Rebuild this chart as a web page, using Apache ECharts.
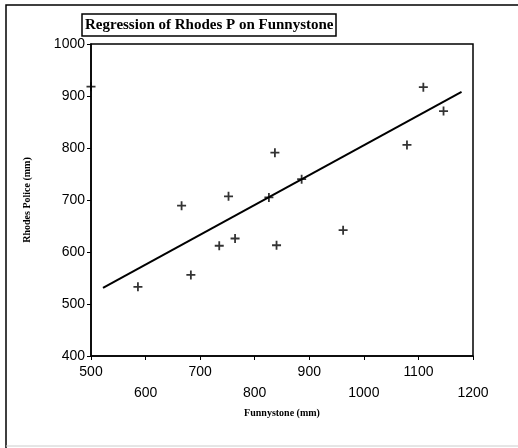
<!DOCTYPE html>
<html>
<head>
<meta charset="utf-8">
<script src="https://cdn.jsdelivr.net/npm/echarts@6/dist/echarts.min.js"></script>
<style>
  html, body { margin: 0; padding: 0; background: #fff; }
  #chart { width: 518px; height: 448px; }
</style>
</head>
<body>
<div id="chart"></div>
<script>
  // Funnystone (mm) vs Rhodes Police (mm)
  var funnystone = [500, 586, 666, 683, 735, 752, 764, 826, 837, 840, 886, 962, 1079, 1109, 1146];
  var rhodes     = [918, 533, 689, 556, 612, 707, 626, 705, 791, 613, 740, 642, 806, 917, 871];
  // fitted line, two ends
  var lineX = [522, 1179];
  var lineY = [531, 908];

  var points = funnystone.map(function (x, i) { return [x, rhodes[i]]; });
  var fit = lineX.map(function (x, i) { return [x, lineY[i]]; });

  var labelFont = { color: '#000', fontFamily: 'Liberation Sans', fontSize: 14 };
  var plus = 'path://M4,0 L6,0 L6,4 L10,4 L10,6 L6,6 L6,10 L4,10 L4,6 L0,6 L0,4 L4,4 Z';

  var myChart = echarts.init(document.getElementById('chart'));
  myChart.setOption({
    animation: false,
    backgroundColor: '#fff',
    title: {
      text: 'Regression of Rhodes P on Funnystone',
      left: 82,
      top: 14,
      padding: [4, 3, 3, 3],
      borderColor: '#000',
      borderWidth: 1.5,
      textStyle: {
        color: '#000',
        fontFamily: 'Liberation Serif',
        fontWeight: 'bold',
        fontSize: 15
      }
    },
    graphic: [{
      type: 'polyline',
      shape: { points: [[6, 448], [6, 5], [518, 5]] },
      style: { stroke: '#000', lineWidth: 1.5, fill: null }
    }, {
      type: 'line',
      shape: { x1: 6, y1: 446, x2: 518, y2: 446 },
      style: { stroke: '#ccc', lineWidth: 1 }
    }],
    grid: {
      left: 91,
      right: 45,
      top: 44,
      bottom: 92,
      show: true,
      borderColor: '#000',
      borderWidth: 1.5
    },
    xAxis: {
      type: 'value',
      min: 500,
      max: 1200,
      interval: 100,
      name: 'Funnystone (mm)',
      nameLocation: 'middle',
      nameGap: 50,
      nameTextStyle: { color: '#000', fontFamily: 'Liberation Serif', fontWeight: 'bold', fontSize: 10 },
      splitLine: { show: false },
      axisLine: { lineStyle: { color: '#000', width: 1.5 } },
      axisTick: { length: 4, lineStyle: { color: '#000' } },
      axisLabel: Object.assign({
        margin: 6,
        lineHeight: 21,
        verticalAlign: 'top',
        formatter: function (v) {
          return (v / 100) % 2 === 0 ? '\n' + v : '' + v;
        }
      }, labelFont)
    },
    yAxis: {
      type: 'value',
      min: 400,
      max: 1000,
      interval: 100,
      name: 'Rhodes Police (mm)',
      nameLocation: 'middle',
      nameGap: 59,
      nameTextStyle: { color: '#000', fontFamily: 'Liberation Serif', fontWeight: 'bold', fontSize: 10 },
      splitLine: { show: false },
      axisLine: { lineStyle: { color: '#000', width: 1.5 } },
      axisTick: { length: 4, lineStyle: { color: '#000' } },
      axisLabel: Object.assign({
        margin: 6,
        formatter: function (v) { return '' + v; }
      }, labelFont)
    },
    series: [{
      type: 'scatter',
      symbol: plus,
      symbolSize: 9,
      itemStyle: { color: '#000' },
      data: points
    }, {
      type: 'line',
      symbol: 'none',
      lineStyle: { color: '#000', width: 2 },
      data: fit
    }]
  });
</script>
</body>
</html>
